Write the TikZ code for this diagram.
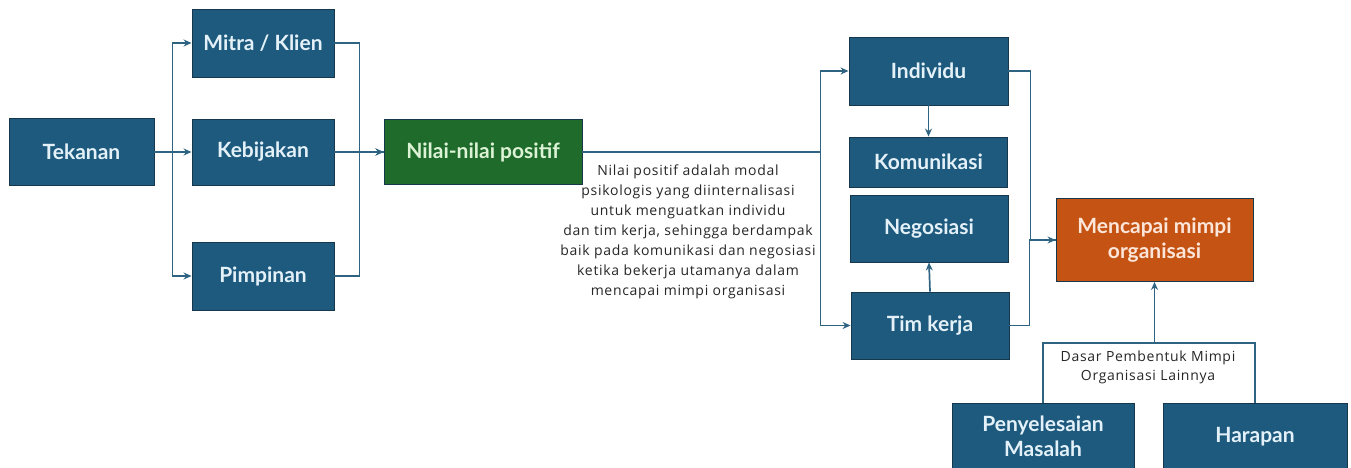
\documentclass[tikz,border=0pt]{standalone}
\usepackage{fontspec}
\setmainfont{Lato}
\newfontfamily\notefont[LetterSpace=5]{Open Sans}
\usetikzlibrary{arrows.meta,calc}

\definecolor{boxblue}{HTML}{1D5A7D}
\definecolor{boxgreen}{HTML}{1F6B2B}
\definecolor{boxorange}{HTML}{C55414}
\definecolor{edgeblue}{HTML}{2E6482}
\definecolor{outline}{HTML}{17384C}
\definecolor{lightblue}{HTML}{E4F1F8}
\definecolor{lightgreen}{HTML}{DDF3D6}
\definecolor{lightorange}{HTML}{FCE6DA}

\tikzset{
  block/.style={rectangle, draw=outline, line width=0.9pt, fill=boxblue,
    text=lightblue, font=\fontsize{21}{24.5}\selectfont\bfseries,
    align=center, inner sep=2pt},
  note/.style={align=center, text=black!85, inner sep=0pt},
  link/.style={draw=edgeblue, line width=1.7pt},
  arrow/.style={link, -{Stealth[length=8pt,width=7pt]}},
}

\begin{document}
\begin{tikzpicture}[x=1pt,y=-1pt]
  \useasboundingbox (0,0) rectangle (1351,468);

  % left half: pressures feeding the positive values
  \node[block, minimum width=145pt, minimum height=67pt] (tek)   at (81.5,152) {Tekanan};
  \node[block, minimum width=142pt, minimum height=68pt] (mitra) at (263,43)   {Mitra / Klien};
  \node[block, minimum width=142pt, minimum height=66pt] (keb)   at (263,152)  {Kebijakan};
  \node[block, minimum width=142pt, minimum height=68pt] (pimp)  at (263,276)  {Pimpinan};
  \node[block, fill=boxgreen, text=lightgreen, minimum width=198pt, minimum height=65pt]
        (nilai) at (483,152) {Nilai-nilai positif};

  % right half: individual and team level
  \node[block, minimum width=159pt, minimum height=68pt] (ind) at (928.5,71)  {Individu};
  \node[block, minimum width=158pt, minimum height=50pt] (kom) at (928.5,162) {Komunikasi};
  \node[block, minimum width=158pt, minimum height=67pt] (neg) at (929,228.5) {Negosiasi};
  \node[block, minimum width=158pt, minimum height=67pt] (tim) at (930,325.5) {Tim kerja};
  \node[block, fill=boxorange, text=lightorange, minimum width=197pt, minimum height=83pt]
        (menc) at (1154.5,240) {Mencapai mimpi\\organisasi};

  \node[block, minimum width=182pt, minimum height=67pt] (peny) at (1043,436.5) {Penyelesaian\\Masalah};
  \node[block, minimum width=184pt, minimum height=67pt] (harap) at (1255,436.5) {Harapan};

  % explanatory notes
  \node[note, font=\notefont\fontsize{14}{20}\selectfont] (expl) at (688,232)
    {Nilai positif adalah modal\\
     psikologis yang diinternalisasi\\
     untuk menguatkan individu\\
     dan tim kerja, sehingga berdampak\\
     baik pada komunikasi dan negosiasi\\
     ketika bekerja utamanya dalam\\
     mencapai mimpi organisasi};
  \node[note, font=\notefont\fontsize{14}{19}\selectfont] (dasar) at (1148,367.5)
    {Dasar Pembentuk Mimpi\\Organisasi Lainnya};

  % Tekanan branches out
  \draw[arrow] (tek.east) -- ++(18,0) |- (mitra.west);
  \draw[arrow] (tek.east) -- (keb.west);
  \draw[arrow] (tek.east) -- ++(18,0) |- (pimp.west);

  % branches merge into Nilai-nilai positif
  \draw[link]  (mitra.east) -- ++(25,0) |- (nilai.west);
  \draw[arrow] (keb.east) -- (nilai.west);
  \draw[arrow] (pimp.east) -- ++(25,0) |- (nilai.west);

  % Nilai-nilai positif splits to Individu and Tim kerja
  \draw[arrow] (nilai.east) -- ++(238,0) |- (ind.west);
  \draw[arrow] (nilai.east) -- ++(238,0) |- (tim.west);
  \draw[arrow] (ind.south) -- (kom.north);
  \draw[arrow] (tim.north) -- (neg.south);

  % merge into Mencapai mimpi organisasi
  \draw[link]  (ind.east) -- ++(22,0) |- (menc.west);
  \draw[arrow] (tim.east) -- ++(20,0) |- (menc.west);

  % bracket joining the two foundations
  \coordinate (top) at (1148,343);
  \draw[link, line width=1.3pt] (peny.north) |- (top) -| (harap.north);
  \draw[arrow] (menc.south |- top) -- (menc.south);
\end{tikzpicture}
\end{document}
